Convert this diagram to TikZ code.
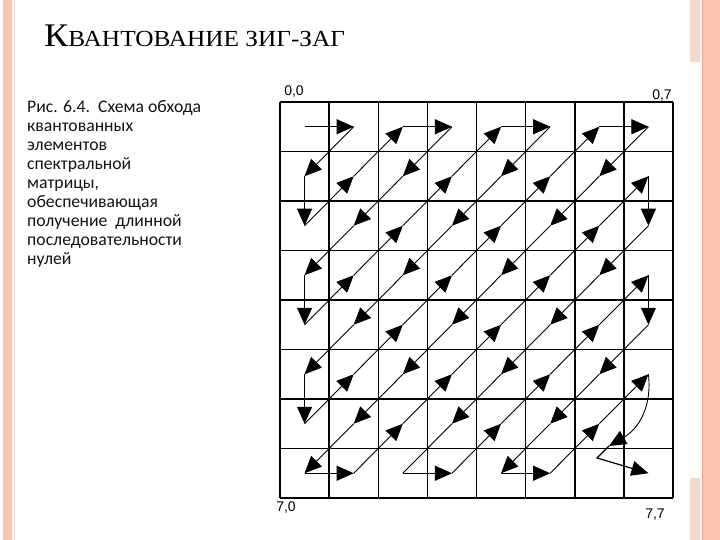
\documentclass[tikz,border=0pt]{standalone}
\usepackage{fontspec}
\setmainfont{Liberation Serif}
\newfontfamily\titlefont[FakeStretch=1.1]{Liberation Serif}
\newfontfamily\bodyfont{Carlito}
\newfontfamily\labfont{Liberation Sans}
\usetikzlibrary{arrows.meta}
\definecolor{salmon}{RGB}{250,196,176}
\definecolor{salmonline}{RGB}{238,165,140}
\definecolor{pinkfaint}{RGB}{245,215,205}
\begin{document}
\begin{tikzpicture}[x=1pt,y=-1pt,
  gridline/.style={line width=1.5pt},
  zz/.style={line width=0.9pt, -{Triangle[length=17pt,width=15pt]}},
  zzplain/.style={line width=0.9pt},
  lab/.style={font=\labfont\fontsize{14}{14}\selectfont, inner sep=0pt}]
\useasboundingbox (0,0) rectangle (720,540);
\fill[white] (0,0) rectangle (720,540);
% borders
\fill[salmon] (3,0) rectangle (12,540);
\draw[pinkfaint, line width=0.8pt] (14.5,0) -- (14.5,540);
\fill[salmon] (703,0) rectangle (720,540);
\draw[salmonline, line width=0.8pt] (702.5,0) -- (702.5,540);
\fill[pinkfaint] (690,0) rectangle (700,62);
\fill[pinkfaint] (690,478) rectangle (700,540);
% title
\node[anchor=base west, inner sep=0pt] (title) at (44,47)
  {\titlefont\fontsize{33}{33}\selectfont К\fontsize{23}{23}\selectfont ВАНТОВАНИЕ ЗИГ-ЗАГ};
% caption
\node[anchor=north west, align=left, inner sep=0pt, text=black!92,
  font=\bodyfont\fontsize{17.7}{19}\selectfont] (cap) at (27,100)
  {Рис. 6.4.\ \ Схема обхода\\ квантованных\\ элементов\\ спектральной\\ матрицы,\\ обеспечивающая\\ получение\ \ длинной\\ последовательности\\ нулей};
% grid
\foreach \i in {0,...,8} {
  \draw[gridline] ({280+\i*49.125},102) -- ({280+\i*49.125},498);
  \draw[gridline] (280,{102+\i*49.5}) -- (673,{102+\i*49.5});
}
\foreach \r in {0,...,7} \foreach \c in {0,...,7}
  \coordinate (c\r\c) at ({280+(\c+0.5)*49.125},{102+(\r+0.5)*49.5});
% labels
\node[lab] (l00) at (294,92) {0,0};
\node[lab] (l07) at (662,96) {0,7};
\node[lab] (l70) at (286,508) {7,0};
\node[lab] (l77) at (655,515) {7,7};
% zig-zag
\foreach \p [remember=\p as \q (initially 00)] in
  {01,10,20,11,02,03,12,21,30,40,31,22,13,04,05,14,23,32,41,50,60,51,42,33,24,15,06,07,16,25,34,43,52,61,70,71,62,53,44,35,26,17,27,36,45,54,63}
  \draw[zz] (c\q) -- (c\p);
\draw[zzplain] (c63) -- (c72);
\foreach \p [remember=\p as \q (initially 72)] in {73,64,55,46,37,47,56,65,74,75,66,57}
  \draw[zz] (c\q) -- (c\p);
\coordinate (k1) at (609,446);
\coordinate (k2) at (597,458);
\draw[zz] (c57) .. controls (652,405) and (640,428) .. (k1);
\draw[zz, line width=1.2pt] (k1) -- (k2) -- (c77);
\end{tikzpicture}
\end{document}
